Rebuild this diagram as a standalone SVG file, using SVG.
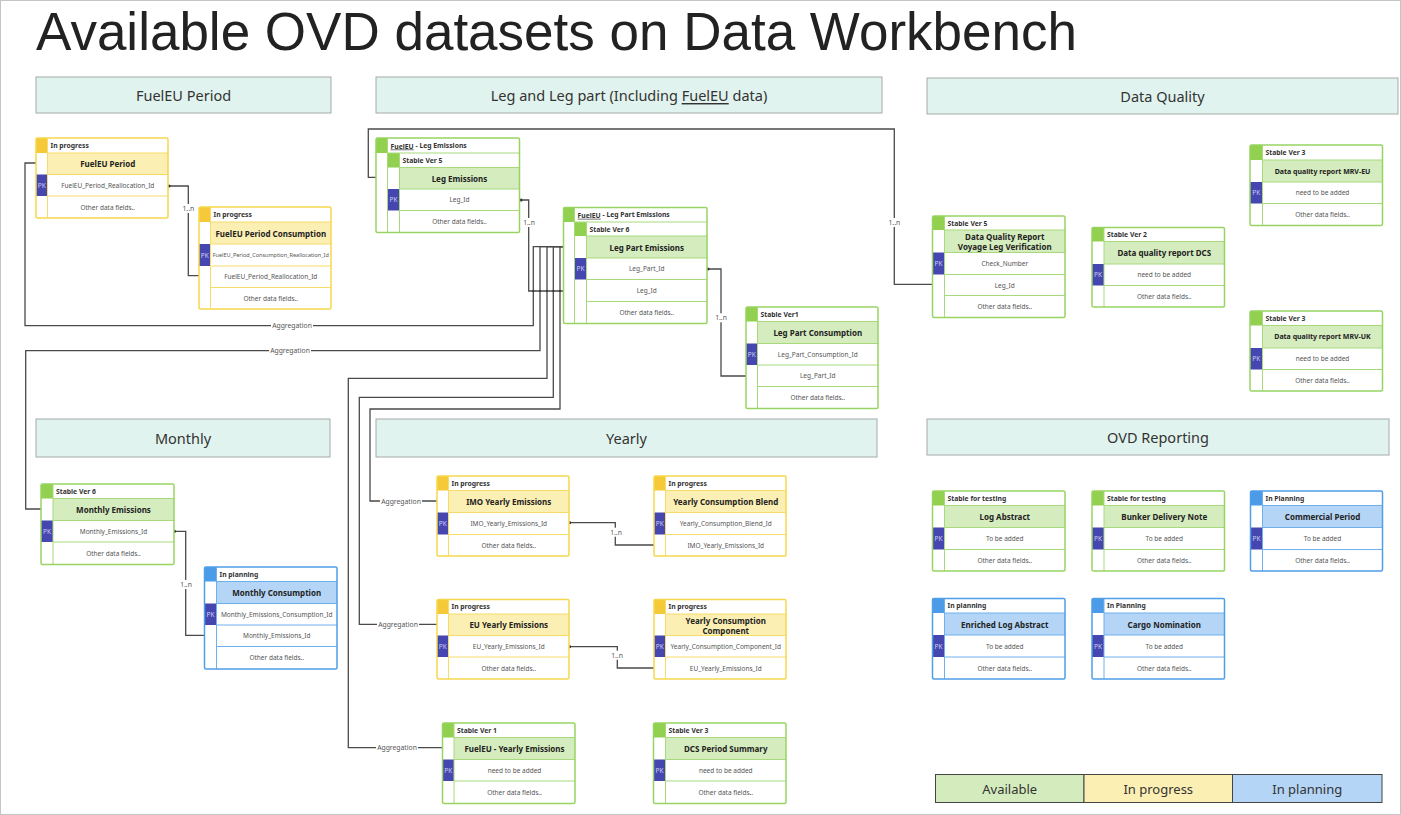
<svg xmlns="http://www.w3.org/2000/svg" width="1401" height="815" viewBox="0 0 1401 815">
<style>
text{font-family:"Noto Sans","Open Sans","DejaVu Sans",sans-serif}
.title{font-family:"Liberation Sans",Arial,sans-serif;font-size:53px;fill:#222}
.sec rect{fill:#e1f3ee;stroke:#a3aaa8;stroke-width:1}
.sec text{font-size:14.5px;fill:#333;text-anchor:middle;dominant-baseline:central}
.st{font-size:6.8px;font-weight:bold;fill:#333;dominant-baseline:central}
.tt{font-size:8px;font-weight:bold;fill:#222;text-anchor:middle;dominant-baseline:central}
.fd{font-size:6.5px;fill:#555;text-anchor:middle;dominant-baseline:central}
.pkt{font-size:6.5px;fill:#cdcdf3;text-anchor:middle;dominant-baseline:central}
.pk{fill:#4646b0}
.bg{fill:#fff}
.bd{fill:none;stroke-width:1.5}
.il{fill:none;stroke-width:1}
.y .bd{stroke:#f6d74c}.y .sq{fill:#f5c938}.y .tf{fill:#fcefb3}.y .il{stroke:#f7dc69}
.g .bd{stroke:#98d462}.g .sq{fill:#92d050}.g .tf{fill:#d5ecbe}.g .il{stroke:#a8da7c}
.b .bd{stroke:#4f9ee8}.b .sq{fill:#4b9be8}.b .tf{fill:#b4d5f5}.b .il{stroke:#6eb0ee}
.cn{fill:none;stroke:#4a4a4a;stroke-width:1.3}
.dot{fill:#333}
.lb{font-size:6.8px;fill:#555;text-anchor:middle;dominant-baseline:central}
.lbg{fill:#fff}
.lg rect{stroke:#444;stroke-width:1}
.lg text{font-size:13px;fill:#333;text-anchor:middle;dominant-baseline:central}
</style>
<rect x="0.5" y="0.5" width="1400" height="814" fill="#fff" stroke="#c4c4c4"/>
<text class="title" x="36" y="50">Available OVD datasets on Data Workbench</text>

<g id="sections" class="sec">
<rect x="36" y="77" width="295" height="36"/><text x="183.5" y="95">FuelEU Period</text>
<rect x="376" y="77" width="506" height="36"/><text x="629" y="95">Leg and Leg part (Including <tspan text-decoration="underline">FuelEU</tspan> data)</text>
<rect x="927" y="78" width="471" height="36"/><text x="1162.5" y="96">Data Quality</text>
<rect x="36" y="419" width="294" height="38"/><text x="183" y="438">Monthly</text>
<rect x="376" y="419" width="501" height="38"/><text x="626.5" y="438">Yearly</text>
<rect x="927" y="419" width="462" height="36"/><text x="1158" y="437">OVD Reporting</text>
</g>

<g id="connectors">
<path class="cn" d="M47,163 H25 V325.7 H533.3 V246.7 H587"/>
<path class="cn" d="M53,509 H25.7 V350.7 H540 V246.7 H587"/>
<path class="cn" d="M453,747.7 H348.3 V378.3 H547 V246.7 H587"/>
<path class="cn" d="M448,624.3 H359.3 V397.3 H553.3 V246.7 H587"/>
<path class="cn" d="M448,501 H370 V409 H560 V246.7 H587"/>
<path class="cn" d="M521,200 H528.7 V291 H587"/>
<path class="cn" d="M397.7,177.3 H368.3 V129 H894.3 V284.3 H943.5"/>
<path class="cn" d="M708,269 H721 V376 H757"/>
<path class="cn" d="M169,186 H188.3 V275.7 H210"/>
<path class="cn" d="M174.5,531.3 H185.7 V635.3 H216"/>
<path class="cn" d="M569.5,522.7 H615.3 V545 H665"/>
<path class="cn" d="M569.5,646.7 H617.3 V668 H665"/>
<g class="dot">
<circle cx="47" cy="163" r="1.6"/><circle cx="53" cy="509" r="1.6"/><circle cx="453" cy="747.7" r="1.6"/>
<circle cx="448" cy="624.3" r="1.6"/><circle cx="448" cy="501" r="1.6"/><circle cx="587" cy="246.7" r="1.6"/>
<circle cx="521" cy="200" r="1.6"/><circle cx="587" cy="291" r="1.6"/><circle cx="397.7" cy="177.3" r="1.6"/>
<circle cx="943.5" cy="284.3" r="1.6"/><circle cx="708" cy="269" r="1.6"/><circle cx="757" cy="376" r="1.6"/>
<circle cx="169" cy="186" r="1.6"/><circle cx="210" cy="275.7" r="1.6"/><circle cx="174.5" cy="531.3" r="1.6"/>
<circle cx="216" cy="635.3" r="1.6"/><circle cx="569.5" cy="522.7" r="1.6"/><circle cx="665" cy="545" r="1.6"/>
<circle cx="569.5" cy="646.7" r="1.6"/><circle cx="665" cy="668" r="1.6"/>
<circle cx="533.3" cy="291" r="1.1"/><circle cx="540" cy="291" r="1.1"/><circle cx="547" cy="291" r="1.1"/>
<circle cx="553.3" cy="291" r="1.1"/><circle cx="560" cy="291" r="1.1"/>
<circle cx="573.3" cy="214.3" r="1"/><circle cx="460" cy="188.3" r="1"/><circle cx="508.3" cy="489" r="1"/>
<circle cx="725.7" cy="489" r="1"/><circle cx="510" cy="612.7" r="1"/><circle cx="725" cy="612.5" r="1"/>
</g>
<g>
<rect class="lbg" x="271" y="321.5" width="42" height="8.5"/><text class="lb" x="292" y="325.7">Aggregation</text>
<rect class="lbg" x="269" y="346.5" width="42" height="8.5"/><text class="lb" x="290" y="350.7">Aggregation</text>
<rect class="lbg" x="376" y="743.5" width="42" height="8.5"/><text class="lb" x="397" y="747.7">Aggregation</text>
<rect class="lbg" x="377" y="620" width="42" height="8.5"/><text class="lb" x="398" y="624.3">Aggregation</text>
<rect class="lbg" x="380" y="496.8" width="42" height="8.5"/><text class="lb" x="401" y="501">Aggregation</text>
<rect class="lbg" x="521" y="218" width="15" height="9"/><text class="lb" x="529" y="222.5">1..n</text>
<rect class="lbg" x="886.5" y="218" width="15" height="9"/><text class="lb" x="894.3" y="222.5">1..n</text>
<rect class="lbg" x="713.5" y="313.3" width="15" height="9"/><text class="lb" x="721" y="317.7">1..n</text>
<rect class="lbg" x="181" y="204" width="15" height="9"/><text class="lb" x="188.3" y="208.3">1..n</text>
<rect class="lbg" x="178.5" y="580" width="15" height="9"/><text class="lb" x="186" y="584.3">1..n</text>
<rect class="lbg" x="608.5" y="527.7" width="15" height="9"/><text class="lb" x="616" y="532">1..n</text>
<rect class="lbg" x="609.5" y="650.7" width="15" height="9"/><text class="lb" x="617" y="655">1..n</text>
</g>
</g>

<!-- FuelEU Period -->
<g id="fueleu-period" class="y">
<rect class="bg" x="36" y="138" width="132" height="80"/>
<rect class="sq" x="36" y="138" width="11.5" height="15"/>
<rect class="tf" x="47.5" y="153" width="120.5" height="21.5"/>
<rect class="pk" x="36" y="174.5" width="11.5" height="21.5"/>
<path class="il" d="M47.5,138V218M47.5,153H168M47.5,174.5H168M47.5,196H168"/>
<rect class="bd" x="36" y="138" width="132" height="80" rx="1.5"/>
<text class="st" x="50.5" y="145.5">In progress</text>
<text class="tt" x="107.75" y="163.75">FuelEU Period</text>
<text class="pkt" x="41.75" y="185.25">PK</text>
<text class="fd" x="107.75" y="185.25">FuelEU_Period_Reallocation_Id</text>
<text class="fd" x="107.75" y="207">Other data fields..</text>
</g>

<g id="fueleu-period-consumption" class="y">
<rect class="bg" x="199" y="207" width="132" height="102"/>
<rect class="sq" x="199" y="207" width="11.5" height="15"/>
<rect class="tf" x="210.5" y="222" width="120.5" height="22"/>
<rect class="pk" x="199" y="244" width="11.5" height="22"/>
<path class="il" d="M210.5,207V309M210.5,222H331M210.5,244H331M210.5,266H331M210.5,287.5H331"/>
<rect class="bd" x="199" y="207" width="132" height="102" rx="1.5"/>
<text class="st" x="213.5" y="214.5">In progress</text>
<text class="tt" x="270.75" y="233">FuelEU Period Consumption</text>
<text class="pkt" x="204.75" y="255">PK</text>
<text class="fd" x="270.75" y="255" style="font-size:5.5px">FuelEU_Period_Consumption_Reallocation_Id</text>
<text class="fd" x="270.75" y="276.75">FuelEU_Period_Reallocation_Id</text>
<text class="fd" x="270.75" y="298.25">Other data fields..</text>
</g>

<!-- Leg Emissions (nested) -->
<g id="leg-emissions" class="g">
<rect class="bg" x="376" y="138" width="143.5" height="94.5"/>
<rect class="sq" x="376" y="138" width="11.5" height="15"/>
<rect class="sq" x="387.5" y="153" width="12" height="14.5"/>
<rect class="tf" x="399.5" y="167.5" width="120" height="21.5"/>
<rect class="pk" x="387.5" y="189" width="12" height="21.5"/>
<path class="il" d="M387.5,138V232.5M387.5,153H519.5M399.5,153V232.5M399.5,167.5H519.5M399.5,189H519.5M399.5,210.5H519.5"/>
<rect class="bd" x="376" y="138" width="143.5" height="94.5" rx="1.5"/>
<text class="st" x="390.5" y="145.5"><tspan text-decoration="underline">FuelEU</tspan> - Leg Emissions</text>
<text class="st" x="402.5" y="160.25">Stable Ver 5</text>
<text class="tt" x="459.5" y="178.25">Leg Emissions</text>
<text class="pkt" x="393.5" y="199.75">PK</text>
<text class="fd" x="459.5" y="199.75">Leg_Id</text>
<text class="fd" x="459.5" y="221.5">Other data fields..</text>
</g>

<!-- Leg Part Emissions (nested) -->
<g id="leg-part-emissions" class="g">
<rect class="bg" x="563.5" y="207.5" width="143.5" height="116"/>
<rect class="sq" x="563.5" y="207.5" width="11" height="14.5"/>
<rect class="sq" x="574.5" y="222" width="12" height="14"/>
<rect class="tf" x="586.5" y="236" width="120.5" height="22"/>
<rect class="pk" x="574.5" y="258" width="12" height="21.5"/>
<path class="il" d="M574.5,207.5V323.5M574.5,222H707M586.5,222V323.5M586.5,236H707M586.5,258H707M586.5,279.5H707M586.5,301.5H707"/>
<rect class="bd" x="563.5" y="207.5" width="143.5" height="116" rx="1.5"/>
<text class="st" x="577.5" y="214.75"><tspan text-decoration="underline">FuelEU</tspan> - Leg Part Emissions</text>
<text class="st" x="589.5" y="229">Stable Ver 6</text>
<text class="tt" x="646.75" y="247">Leg Part Emissions</text>
<text class="pkt" x="580.5" y="268.75">PK</text>
<text class="fd" x="646.75" y="268.75">Leg_Part_Id</text>
<text class="fd" x="646.75" y="290.5">Leg_Id</text>
<text class="fd" x="646.75" y="312.5">Other data fields..</text>
</g>

<g id="leg-part-consumption" class="g">
<rect class="bg" x="746" y="307" width="132" height="101.5"/>
<rect class="sq" x="746" y="307" width="11.5" height="14.5"/>
<rect class="tf" x="757.5" y="321.5" width="120.5" height="22"/>
<rect class="pk" x="746" y="343.5" width="11.5" height="21.5"/>
<path class="il" d="M757.5,307V408.5M757.5,321.5H878M757.5,343.5H878M757.5,365H878M757.5,386.5H878"/>
<rect class="bd" x="746" y="307" width="132" height="101.5" rx="1.5"/>
<text class="st" x="760.5" y="314.25">Stable Ver1</text>
<text class="tt" x="817.75" y="332.5">Leg Part Consumption</text>
<text class="pkt" x="751.75" y="354.25">PK</text>
<text class="fd" x="817.75" y="354.25">Leg_Part_Consumption_Id</text>
<text class="fd" x="817.75" y="375.75">Leg_Part_Id</text>
<text class="fd" x="817.75" y="397.5">Other data fields..</text>
</g>

<!-- Data Quality -->
<g id="dq-voyage-leg" class="g">
<rect class="bg" x="932.5" y="216" width="132.5" height="101.5"/>
<rect class="sq" x="932.5" y="216" width="12" height="14"/>
<rect class="tf" x="944.5" y="230" width="120.5" height="22.5"/>
<rect class="pk" x="932.5" y="252.5" width="12" height="22"/>
<path class="il" d="M944.5,216V317.5M944.5,230H1065M944.5,252.5H1065M944.5,274.5H1065M944.5,295.5H1065"/>
<rect class="bd" x="932.5" y="216" width="132.5" height="101.5" rx="1.5"/>
<text class="st" x="947.5" y="223">Stable Ver 5</text>
<text class="tt" x="1004.75" y="236.6">Data Quality Report</text>
<text class="tt" x="1004.75" y="246.4">Voyage Leg Verification</text>
<text class="pkt" x="938.5" y="263.5">PK</text>
<text class="fd" x="1004.75" y="263.5">Check_Number</text>
<text class="fd" x="1004.75" y="285">Leg_Id</text>
<text class="fd" x="1004.75" y="306.5">Other data fields..</text>
</g>

<g id="dq-dcs" class="g">
<rect class="bg" x="1092" y="227.5" width="132.5" height="79.5"/>
<rect class="sq" x="1092" y="227.5" width="12" height="14"/>
<rect class="tf" x="1104" y="241.5" width="120.5" height="22.5"/>
<rect class="pk" x="1092" y="264" width="12" height="21.5"/>
<path class="il" d="M1104,227.5V307M1104,241.5H1224.5M1104,264H1224.5M1104,285.5H1224.5"/>
<rect class="bd" x="1092" y="227.5" width="132.5" height="79.5" rx="1.5"/>
<text class="st" x="1107" y="234.5">Stable Ver 2</text>
<text class="tt" x="1164.25" y="252.75">Data quality report DCS</text>
<text class="pkt" x="1098" y="274.75">PK</text>
<text class="fd" x="1164.25" y="274.75">need to be added</text>
<text class="fd" x="1164.25" y="296.25">Other data fields..</text>
</g>

<g id="dq-mrv-eu" class="g">
<rect class="bg" x="1250" y="145" width="132.5" height="80.5"/>
<rect class="sq" x="1250" y="145" width="12.5" height="15"/>
<rect class="tf" x="1262.5" y="160" width="120" height="22"/>
<rect class="pk" x="1250" y="182" width="12.5" height="21.5"/>
<path class="il" d="M1262.5,145V225.5M1262.5,160H1382.5M1262.5,182H1382.5M1262.5,203.5H1382.5"/>
<rect class="bd" x="1250" y="145" width="132.5" height="80.5" rx="1.5"/>
<text class="st" x="1265.5" y="152.5">Stable Ver 3</text>
<text class="tt" x="1322.5" y="171" style="font-size:7px">Data quality report MRV-EU</text>
<text class="pkt" x="1256.25" y="192.75">PK</text>
<text class="fd" x="1322.5" y="192.75">need to be added</text>
<text class="fd" x="1322.5" y="214.5">Other data fields..</text>
</g>

<g id="dq-mrv-uk" class="g">
<rect class="bg" x="1250" y="311" width="132.5" height="80"/>
<rect class="sq" x="1250" y="311" width="12.5" height="14.5"/>
<rect class="tf" x="1262.5" y="325.5" width="120" height="22.5"/>
<rect class="pk" x="1250" y="348" width="12.5" height="21.5"/>
<path class="il" d="M1262.5,311V391M1262.5,325.5H1382.5M1262.5,348H1382.5M1262.5,369.5H1382.5"/>
<rect class="bd" x="1250" y="311" width="132.5" height="80" rx="1.5"/>
<text class="st" x="1265.5" y="318.25">Stable Ver 3</text>
<text class="tt" x="1322.5" y="336.75" style="font-size:7px">Data quality report MRV-UK</text>
<text class="pkt" x="1256.25" y="358.75">PK</text>
<text class="fd" x="1322.5" y="358.75">need to be added</text>
<text class="fd" x="1322.5" y="380.25">Other data fields..</text>
</g>

<!-- Monthly -->
<g id="monthly-emissions" class="g">
<rect class="bg" x="41" y="484" width="133" height="80.5"/>
<rect class="sq" x="41" y="484" width="12" height="14.5"/>
<rect class="tf" x="53" y="498.5" width="121" height="22"/>
<rect class="pk" x="41" y="520.5" width="12" height="21.5"/>
<path class="il" d="M53,484V564.5M53,498.5H174M53,520.5H174M53,542H174"/>
<rect class="bd" x="41" y="484" width="133" height="80.5" rx="1.5"/>
<text class="st" x="56" y="491.25">Stable Ver 6</text>
<text class="tt" x="113.5" y="509.5">Monthly Emissions</text>
<text class="pkt" x="47" y="531.25">PK</text>
<text class="fd" x="113.5" y="531.25">Monthly_Emissions_Id</text>
<text class="fd" x="113.5" y="553.25">Other data fields..</text>
</g>

<g id="monthly-consumption" class="b">
<rect class="bg" x="204.5" y="567" width="132.5" height="102"/>
<rect class="sq" x="204.5" y="567" width="12" height="14.5"/>
<rect class="tf" x="216.5" y="581.5" width="120.5" height="22"/>
<rect class="pk" x="204.5" y="603.5" width="12" height="21.5"/>
<path class="il" d="M216.5,567V669M216.5,581.5H337M216.5,603.5H337M216.5,625H337M216.5,646.5H337"/>
<rect class="bd" x="204.5" y="567" width="132.5" height="102" rx="1.5"/>
<text class="st" x="219.5" y="574.25">In planning</text>
<text class="tt" x="276.75" y="592.5">Monthly Consumption</text>
<text class="pkt" x="210.5" y="614.25">PK</text>
<text class="fd" x="276.75" y="614.25">Monthly_Emissions_Consumption_Id</text>
<text class="fd" x="276.75" y="635.75">Monthly_Emissions_Id</text>
<text class="fd" x="276.75" y="657.75">Other data fields..</text>
</g>

<!-- Yearly -->
<g id="imo-yearly-emissions" class="y">
<rect class="bg" x="437" y="476" width="132" height="80"/>
<rect class="sq" x="437" y="476" width="11.5" height="14.5"/>
<rect class="tf" x="448.5" y="490.5" width="120.5" height="22"/>
<rect class="pk" x="437" y="512.5" width="11.5" height="22"/>
<path class="il" d="M448.5,476V556M448.5,490.5H569M448.5,512.5H569M448.5,534.5H569"/>
<rect class="bd" x="437" y="476" width="132" height="80" rx="1.5"/>
<text class="st" x="451.5" y="483.25">In progress</text>
<text class="tt" x="508.75" y="501.5">IMO Yearly Emissions</text>
<text class="pkt" x="442.75" y="523.5">PK</text>
<text class="fd" x="508.75" y="523.5">IMO_Yearly_Emissions_Id</text>
<text class="fd" x="508.75" y="545.25">Other data fields..</text>
</g>

<g id="yearly-consumption-blend" class="y">
<rect class="bg" x="654" y="476" width="132" height="80"/>
<rect class="sq" x="654" y="476" width="11.5" height="14.5"/>
<rect class="tf" x="665.5" y="490.5" width="120.5" height="22"/>
<rect class="pk" x="654" y="512.5" width="11.5" height="22"/>
<path class="il" d="M665.5,476V556M665.5,490.5H786M665.5,512.5H786M665.5,534.5H786"/>
<rect class="bd" x="654" y="476" width="132" height="80" rx="1.5"/>
<text class="st" x="668.5" y="483.25">In progress</text>
<text class="tt" x="725.75" y="501.5">Yearly Consumption Blend</text>
<text class="pkt" x="659.75" y="523.5">PK</text>
<text class="fd" x="725.75" y="523.5">Yearly_Consumption_Blend_Id</text>
<text class="fd" x="725.75" y="545.25">IMO_Yearly_Emissions_Id</text>
</g>

<g id="eu-yearly-emissions" class="y">
<rect class="bg" x="437" y="599.5" width="132" height="79.5"/>
<rect class="sq" x="437" y="599.5" width="11.5" height="14.5"/>
<rect class="tf" x="448.5" y="614" width="120.5" height="21.5"/>
<rect class="pk" x="437" y="635.5" width="11.5" height="21.5"/>
<path class="il" d="M448.5,599.5V679M448.5,614H569M448.5,635.5H569M448.5,657H569"/>
<rect class="bd" x="437" y="599.5" width="132" height="79.5" rx="1.5"/>
<text class="st" x="451.5" y="606.75">In progress</text>
<text class="tt" x="508.75" y="624.75">EU Yearly Emissions</text>
<text class="pkt" x="442.75" y="646.25">PK</text>
<text class="fd" x="508.75" y="646.25">EU_Yearly_Emissions_Id</text>
<text class="fd" x="508.75" y="668">Other data fields..</text>
</g>

<g id="yearly-consumption-component" class="y">
<rect class="bg" x="654" y="599.5" width="132" height="79.5"/>
<rect class="sq" x="654" y="599.5" width="11.5" height="14.5"/>
<rect class="tf" x="665.5" y="614" width="120.5" height="21.5"/>
<rect class="pk" x="654" y="635.5" width="11.5" height="21.5"/>
<path class="il" d="M665.5,599.5V679M665.5,614H786M665.5,635.5H786M665.5,657H786"/>
<rect class="bd" x="654" y="599.5" width="132" height="79.5" rx="1.5"/>
<text class="st" x="668.5" y="606.75">In progress</text>
<text class="tt" x="725.75" y="620.2">Yearly Consumption</text>
<text class="tt" x="725.75" y="630">Component</text>
<text class="pkt" x="659.75" y="646.25">PK</text>
<text class="fd" x="725.75" y="646.25">Yearly_Consumption_Component_Id</text>
<text class="fd" x="725.75" y="668">EU_Yearly_Emissions_Id</text>
</g>

<g id="fueleu-yearly-emissions" class="g">
<rect class="bg" x="442.5" y="723" width="132.5" height="80.5"/>
<rect class="sq" x="442.5" y="723" width="11.5" height="14.5"/>
<rect class="tf" x="454" y="737.5" width="121" height="22"/>
<rect class="pk" x="442.5" y="759.5" width="11.5" height="21.5"/>
<path class="il" d="M454,723V803.5M454,737.5H575M454,759.5H575M454,781H575"/>
<rect class="bd" x="442.5" y="723" width="132.5" height="80.5" rx="1.5"/>
<text class="st" x="457" y="730.25">Stable Ver 1</text>
<text class="tt" x="514.5" y="748.5">FuelEU - Yearly Emissions</text>
<text class="pkt" x="448.25" y="770.25">PK</text>
<text class="fd" x="514.5" y="770.25">need to be added</text>
<text class="fd" x="514.5" y="792.25">Other data fields..</text>
</g>

<g id="dcs-period-summary" class="g">
<rect class="bg" x="653.5" y="723" width="132.5" height="80.5"/>
<rect class="sq" x="653.5" y="723" width="12" height="14.5"/>
<rect class="tf" x="665.5" y="737.5" width="120.5" height="22"/>
<rect class="pk" x="653.5" y="759.5" width="12" height="21.5"/>
<path class="il" d="M665.5,723V803.5M665.5,737.5H786M665.5,759.5H786M665.5,781H786"/>
<rect class="bd" x="653.5" y="723" width="132.5" height="80.5" rx="1.5"/>
<text class="st" x="668.5" y="730.25">Stable Ver 3</text>
<text class="tt" x="725.75" y="748.5">DCS Period Summary</text>
<text class="pkt" x="659.5" y="770.25">PK</text>
<text class="fd" x="725.75" y="770.25">need to be added</text>
<text class="fd" x="725.75" y="792.25">Other data fields..</text>
</g>

<!-- OVD Reporting -->
<g id="log-abstract" class="g">
<rect class="bg" x="932.5" y="491" width="132.5" height="80"/>
<rect class="sq" x="932.5" y="491" width="12" height="14.5"/>
<rect class="tf" x="944.5" y="505.5" width="120.5" height="22"/>
<rect class="pk" x="932.5" y="527.5" width="12" height="22"/>
<path class="il" d="M944.5,491V571M944.5,505.5H1065M944.5,527.5H1065M944.5,549.5H1065"/>
<rect class="bd" x="932.5" y="491" width="132.5" height="80" rx="1.5"/>
<text class="st" x="947.5" y="498.25">Stable for testing</text>
<text class="tt" x="1004.75" y="516.5">Log Abstract</text>
<text class="pkt" x="938.5" y="538.5">PK</text>
<text class="fd" x="1004.75" y="538.5">To be added</text>
<text class="fd" x="1004.75" y="560.25">Other data fields..</text>
</g>

<g id="bunker-delivery-note" class="g">
<rect class="bg" x="1092" y="491" width="132.5" height="80"/>
<rect class="sq" x="1092" y="491" width="12" height="14.5"/>
<rect class="tf" x="1104" y="505.5" width="120.5" height="22"/>
<rect class="pk" x="1092" y="527.5" width="12" height="22"/>
<path class="il" d="M1104,491V571M1104,505.5H1224.5M1104,527.5H1224.5M1104,549.5H1224.5"/>
<rect class="bd" x="1092" y="491" width="132.5" height="80" rx="1.5"/>
<text class="st" x="1107" y="498.25">Stable for testing</text>
<text class="tt" x="1164.25" y="516.5">Bunker Delivery Note</text>
<text class="pkt" x="1098" y="538.5">PK</text>
<text class="fd" x="1164.25" y="538.5">To be added</text>
<text class="fd" x="1164.25" y="560.25">Other data fields..</text>
</g>

<g id="commercial-period" class="b">
<rect class="bg" x="1250.5" y="491" width="132" height="80"/>
<rect class="sq" x="1250.5" y="491" width="12" height="14.5"/>
<rect class="tf" x="1262.5" y="505.5" width="120" height="22"/>
<rect class="pk" x="1250.5" y="527.5" width="12" height="22"/>
<path class="il" d="M1262.5,491V571M1262.5,505.5H1382.5M1262.5,527.5H1382.5M1262.5,549.5H1382.5"/>
<rect class="bd" x="1250.5" y="491" width="132" height="80" rx="1.5"/>
<text class="st" x="1265.5" y="498.25">In Planning</text>
<text class="tt" x="1322.5" y="516.5">Commercial Period</text>
<text class="pkt" x="1256.5" y="538.5">PK</text>
<text class="fd" x="1322.5" y="538.5">To be added</text>
<text class="fd" x="1322.5" y="560.25">Other data fields..</text>
</g>

<g id="enriched-log-abstract" class="b">
<rect class="bg" x="932.5" y="598.5" width="132.5" height="80.5"/>
<rect class="sq" x="932.5" y="598.5" width="12" height="14.5"/>
<rect class="tf" x="944.5" y="613" width="120.5" height="22"/>
<rect class="pk" x="932.5" y="635" width="12" height="22"/>
<path class="il" d="M944.5,598.5V679M944.5,613H1065M944.5,635H1065M944.5,657H1065"/>
<rect class="bd" x="932.5" y="598.5" width="132.5" height="80.5" rx="1.5"/>
<text class="st" x="947.5" y="605.75">In planning</text>
<text class="tt" x="1004.75" y="624">Enriched Log Abstract</text>
<text class="pkt" x="938.5" y="646">PK</text>
<text class="fd" x="1004.75" y="646">To be added</text>
<text class="fd" x="1004.75" y="668">Other data fields..</text>
</g>

<g id="cargo-nomination" class="b">
<rect class="bg" x="1092" y="598.5" width="132.5" height="80.5"/>
<rect class="sq" x="1092" y="598.5" width="12" height="14.5"/>
<rect class="tf" x="1104" y="613" width="120.5" height="22"/>
<rect class="pk" x="1092" y="635" width="12" height="22"/>
<path class="il" d="M1104,598.5V679M1104,613H1224.5M1104,635H1224.5M1104,657H1224.5"/>
<rect class="bd" x="1092" y="598.5" width="132.5" height="80.5" rx="1.5"/>
<text class="st" x="1107" y="605.75">In Planning</text>
<text class="tt" x="1164.25" y="624">Cargo Nomination</text>
<text class="pkt" x="1098" y="646">PK</text>
<text class="fd" x="1164.25" y="646">To be added</text>
<text class="fd" x="1164.25" y="668">Other data fields..</text>
</g>

<g id="legend" class="lg">
<rect x="935.5" y="774.5" width="148.5" height="28" fill="#d4ecbd"/>
<rect x="1084" y="774.5" width="148.5" height="28" fill="#fcefb4"/>
<rect x="1232.5" y="774.5" width="149.5" height="28" fill="#b4d5f5"/>
<text x="1009.75" y="788.5">Available</text>
<text x="1158.25" y="788.5">In progress</text>
<text x="1307.25" y="788.5">In planning</text>
</g>
</svg>
